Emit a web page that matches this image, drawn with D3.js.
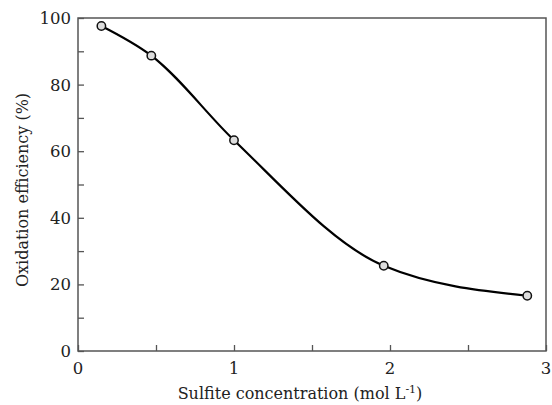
<!DOCTYPE html>
<html>
<head>
<meta charset="utf-8">
<script src="https://cdn.jsdelivr.net/npm/d3@7"></script>
<style>
  body { margin: 0; background: #fff; }
</style>
</head>
<body>
<div id="chart"></div>
<script>
// data
const concentration = [0.15, 0.47, 1.0, 1.96, 2.88];
const efficiency = [97.6, 88.7, 63.3, 25.6, 16.6];
const xTicks = [0, 1, 2, 3];
const yTicks = [0, 20, 40, 60, 80, 100];

const serif = "'DejaVu Serif', serif";

let margin = {top: 18, right: 6, bottom: 54, left: 78},
    width = 552 - margin.left - margin.right,
    height = 405 - margin.top - margin.bottom;

let svg = d3.select("#chart")
    .append("svg")
    .attr("width", 552)
    .attr("height", 405)
    .append("g")
    .attr("transform", `translate(${margin.left}, ${margin.top})`);

let x = d3.scaleLinear().domain([0, 3]).range([0, width]);
let y = d3.scaleLinear().domain([0, 100]).range([height, 0]);

const axisColor = "#555";

// frame
svg.append("rect")
    .attr("x", 0).attr("y", 0)
    .attr("width", width).attr("height", height)
    .attr("fill", "none")
    .attr("stroke", axisColor)
    .attr("stroke-width", 1.5);

// x axis, ticks pointing inward
svg.append("g")
    .attr("transform", `translate(0, ${height})`)
    .call(d3.axisBottom(x).tickValues(d3.range(0, 3.01, 0.5)).tickSize(-6).tickFormat(""))
    .call(g => g.select(".domain").remove())
    .call(g => g.selectAll("line").attr("stroke", axisColor).attr("stroke-width", 1.3));

svg.append("g")
    .selectAll("text")
    .data(xTicks)
    .join("text")
    .style("font-family", serif)
    .style("font-size", "16.5px")
    .attr("fill", "#222")
    .attr("text-anchor", "middle")
    .attr("x", d => x(d))
    .attr("y", height + 23)
    .text(d => d);

// y axis, ticks pointing inward
svg.append("g")
    .call(d3.axisLeft(y).tickValues(d3.range(0, 101, 10)).tickSize(-6).tickFormat(""))
    .call(g => g.select(".domain").remove())
    .call(g => g.selectAll("line").attr("stroke", axisColor).attr("stroke-width", 1.3));

svg.append("g")
    .selectAll("text")
    .data(yTicks)
    .join("text")
    .style("font-family", serif)
    .style("font-size", "16.5px")
    .attr("fill", "#222")
    .attr("text-anchor", "end")
    .attr("x", -7)
    .attr("y", d => y(d) + 6)
    .text(d => d);

// axis titles
let xTitle = svg.append("text")
    .style("font-family", serif)
    .style("font-size", "16px")
    .attr("fill", "#222")
    .attr("text-anchor", "middle")
    .attr("x", 300 - margin.left)
    .attr("y", height + 48);
xTitle.append("tspan").text("Sulfite concentration (mol L");
xTitle.append("tspan").attr("dy", -6).style("font-size", "11px").text("-1");
xTitle.append("tspan").attr("dy", 6).text(")");

svg.append("text")
    .style("font-family", serif)
    .style("font-size", "16px")
    .attr("fill", "#222")
    .attr("text-anchor", "middle")
    .attr("transform", `translate(${-50}, ${190 - margin.top}) rotate(-90)`)
    .text("Oxidation efficiency (%)");

// line
let pts = concentration.map((c, i) => [c, efficiency[i]]);
svg.append("path")
    .datum(pts)
    .attr("fill", "none")
    .attr("stroke", "#000")
    .attr("stroke-width", 2.2)
    .attr("d", d3.line().x(d => x(d[0])).y(d => y(d[1])).curve(d3.curveMonotoneX));

// dots
svg.selectAll(".dot")
    .data(pts)
    .join("circle")
    .attr("class", "dot")
    .attr("cx", d => x(d[0]))
    .attr("cy", d => y(d[1]))
    .attr("r", 4.2)
    .attr("fill", "#ddd")
    .attr("stroke", "#111")
    .attr("stroke-width", 1.5);
</script>
</body>
</html>
